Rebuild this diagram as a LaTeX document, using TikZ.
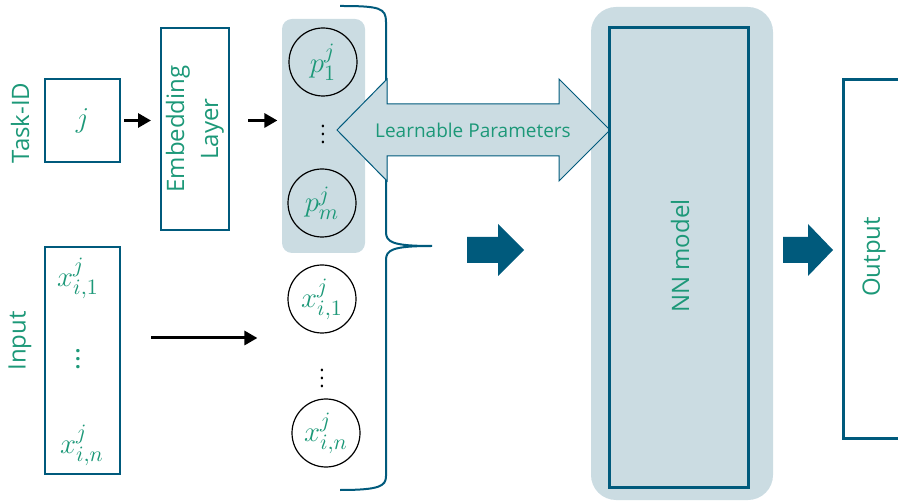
\documentclass[tikz,border=0pt]{standalone}
\usepackage{fontspec}
\setmainfont{Open Sans}
\usetikzlibrary{arrows.meta}

\definecolor{tealtext}{RGB}{28,152,120}
\definecolor{tealline}{RGB}{0,90,124}
\definecolor{tealshade}{RGB}{203,220,226}

\begin{document}
\begin{tikzpicture}[x=0.5pt, y=-0.5pt,
    tag/.style = {text=tealtext, rotate=90, align=center, font=\fontsize{12}{17}\selectfont},
    sym/.style = {text=tealtext, font=\fontsize{15}{17}\selectfont},
    box/.style = {draw=tealline, line width=1pt, inner sep=0pt},
    neuron/.style = {draw, circle, line width=0.6pt, minimum size=34pt, inner sep=0pt, sym},
    panel/.style = {fill=tealshade, rounded corners=5pt},
    feed/.style = {-{Triangle[length=6.5pt, width=7pt]}, line width=1.5pt},
    block/.style = {fill=tealline}]

  \useasboundingbox (0,0) rectangle (898,501);

  % shaded backgrounds
  \fill[panel] (282,19) rectangle (365,253);
  \fill[panel, rounded corners=12.5pt] (591,7) rectangle (773,500);

  % task id branch
  \node[tag] (taskid) at (20,123) {Task-ID};
  \node[box, sym, minimum width=37.5pt, minimum height=41.5pt] (jbox) at (82.5,120.5) {$j$};
  \node[box, minimum width=34pt, minimum height=101pt] (embed) at (195,129) {};
  \node[tag] (embedtext) at (embed) {Embedding\\Layer};

  \node[neuron] (p1) at (323,62) {$p_1^j$};
  \node (pdots) at (323,128) {$\vdots$};
  \node[neuron] (pm) at (322,203) {$p_m^j$};

  % input branch
  \node[tag] (inputtag) at (20,341) {Input};
  \node[box, minimum width=37.5pt, minimum height=113.5pt] (inbox) at (82.5,360.5) {};
  \node[sym] (xin1) at (78,278) {$x_{i,1}^j$};
  \node[text=tealtext] (xindots) at (78,353) {\bfseries$\vdots$};
  \node[sym] (xinn) at (82,445) {$x_{i,n}^j$};

  \node[neuron] (x1) at (322,299) {$x_{i,1}^j$};
  \node (xdots) at (322,372) {$\vdots$};
  \node[neuron] (xn) at (326,433) {$x_{i,n}^j$};

  \draw[feed, shorten <=1.5pt, shorten >=4.5pt] (jbox.east) -- (jbox.east -| embed.west);
  \draw[feed, shorten <=9pt, shorten >=5.5pt] (jbox.east -| embed.east) -- (jbox.east -| p1.west);
  \coordinate (feedrow) at (0,338);
  \draw[feed, shorten <=15pt, shorten >=15pt] (inbox.east |- feedrow) -- (x1.west |- feedrow);

  % brace
  \draw[tealline, line width=1pt] (340,6) .. controls (380,6) and (386,8) .. (386,22)
    -- (386,232) .. controls (386,242) and (392,246) .. (432,246)
    .. controls (392,246) and (386,250) .. (386,260)
    -- (386,476) .. controls (386,486) and (380,490) .. (340,490);

  % shared parameters
  \filldraw[fill=tealshade, draw=tealline, line width=0.5pt]
    (337,130) -- (387,79) -- (387,104) -- (559,104) -- (559,79) -- (610,130)
    -- (559,181) -- (559,156) -- (387,156) -- (387,181) -- cycle;
  \node[text=tealtext, font=\fontsize{9.5}{11}\selectfont] (params) at (473,130) {Learnable Parameters};

  % model and output
  \node[box, line width=1.5pt, minimum width=69.5pt, minimum height=229.5pt] (nn) at (678.5,257.5) {};
  \node[tag] (nntext) at (680,256) {NN model};

  \fill[block] (467,237) -- (498,237) -- (498,224) -- (524,250) -- (498,276) -- (498,263) -- (467,263) -- cycle;
  \fill[block] (783,237) -- (808,237) -- (808,224) -- (833,250) -- (808,276) -- (808,263) -- (783,263) -- cycle;

  \node[box, line width=1.5pt, minimum width=40pt, minimum height=179.5pt, anchor=north west] (out) at (842,78) {};
  \node[tag] (outtext) at (874,257) {Output};

\end{tikzpicture}
\end{document}
